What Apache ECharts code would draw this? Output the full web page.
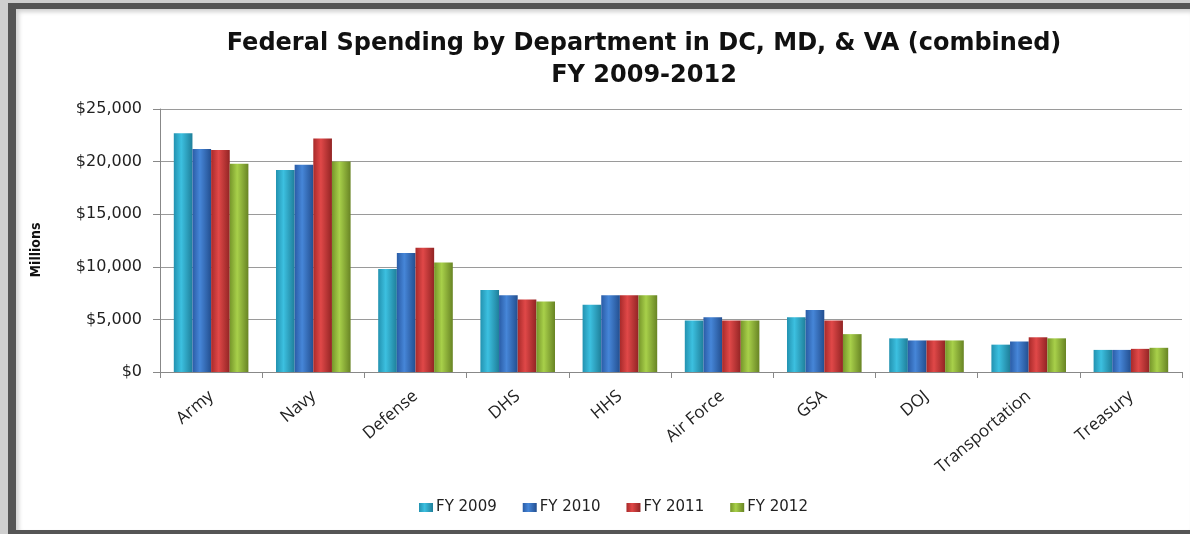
<!DOCTYPE html>
<html>
<head>
	<meta charset="utf-8">
	<title>Federal Spending by Department</title>
	<script src="https://cdn.jsdelivr.net/npm/echarts@6/dist/echarts.min.js"></script>
	<style>
		html, body { margin: 0; padding: 0; width: 1190px; height: 534px; overflow: hidden; background: #cfcfcf; }
		#frame { position: absolute; left: 8px; top: 3px; width: 1174px; height: 521px; background: #fff;
			border-left: 8px solid #555; border-top: 6px solid #555; border-bottom: 4px solid #555;
			box-shadow: inset 3px 3px 4px rgba(0,0,0,0.18); }
		#container { position: absolute; left: 0; top: 0; width: 1190px; height: 534px; }
	</style>
</head>
<body>
	<div id="frame"></div>
	<div id="container"></div>
	<script type="text/javascript">
	var departments = ['Army', 'Navy', 'Defense', 'DHS', 'HHS', 'Air Force', 'GSA', 'DOJ', 'Transportation', 'Treasury'];
	var years = ['FY 2009', 'FY 2010', 'FY 2011', 'FY 2012'];
	// millions of dollars
	var fy2009 = [22700, 19200, 9800, 7800, 6400, 4900, 5200, 3200, 2600, 2100];
	var fy2010 = [21200, 19700, 11300, 7300, 7300, 5200, 5900, 3000, 2900, 2100];
	var fy2011 = [21100, 22200, 11800, 6900, 7300, 4900, 4900, 3000, 3300, 2200];
	var fy2012 = [19800, 20000, 10400, 6700, 7300, 4900, 3600, 3000, 3200, 2300];
	var yTicks = [0, 5000, 10000, 15000, 20000, 25000];

	var values = [fy2009, fy2010, fy2011, fy2012];
	var palette = [
		['#2392b0', '#3cc0e0', '#1f7f9a'],
		['#2a5ca6', '#4686d8', '#234f90'],
		['#a82a2a', '#e04848', '#922424'],
		['#76962a', '#a8d04a', '#688424']
	];

	function shade(c) {
		return new echarts.graphic.LinearGradient(0, 0, 1, 0, [
			{offset: 0, color: c[0]},
			{offset: 0.4, color: c[1]},
			{offset: 1, color: c[2]}
		]);
	}

	var series = [];
	for (var i = 0; i < years.length; i++) {
		series.push({
			name: years[i],
			type: 'bar',
			data: values[i],
			barGap: '0%',
			barCategoryGap: '27%',
			itemStyle: {color: shade(palette[i])}
		});
	}

	var myChart = echarts.init(document.getElementById('container'));
	myChart.setOption({
		animation: false,
		backgroundColor: 'transparent',
		color: ['#30b4d4', '#3b7ad0', '#d63a3a', '#9cc43e'],
		title: {
			text: 'Federal Spending by Department in DC, MD, & VA (combined)\nFY 2009-2012',
			left: 639,
			top: 23,
			textAlign: 'center',
			textStyle: {fontFamily: 'DejaVu Sans', fontWeight: 'bold', fontSize: 24, lineHeight: 32, color: '#111'}
		},
		legend: {
			data: years,
			left: 414,
			top: 495,
			itemWidth: 14,
			itemHeight: 9,
			itemGap: 26,
			icon: 'rect',
			textStyle: {fontFamily: 'DejaVu Sans', fontSize: 15, color: '#222', padding: [0, 0, 0, -2]}
		},
		grid: {left: 160, right: 8, top: 109, bottom: 162},
		graphic: [{
			type: 'text',
			x: 36,
			y: 250,
			rotation: Math.PI / 2,
			style: {text: 'Millions', fontFamily: 'DejaVu Sans Condensed', fontWeight: 'bold', fontSize: 14,
				fill: '#111', align: 'center', verticalAlign: 'middle'}
		}],
		xAxis: {
			type: 'category',
			data: departments,
			axisLine: {lineStyle: {color: '#888'}},
			axisTick: {show: true, length: 6, lineStyle: {color: '#888'}},
			axisLabel: {interval: 0, rotate: 40, margin: 22, fontFamily: 'Open Sans', fontSize: 17, color: '#222'}
		},
		yAxis: {
			type: 'value',
			min: yTicks[0],
			max: yTicks[yTicks.length - 1],
			interval: yTicks[1] - yTicks[0],
			axisLine: {show: true, lineStyle: {color: '#888'}},
			axisTick: {show: true, length: 7, lineStyle: {color: '#888'}},
			axisLabel: {
				margin: 18,
				fontFamily: 'DejaVu Sans',
				fontSize: 16,
				color: '#222',
				formatter: function (v) { return '$' + v.toLocaleString('en-US'); }
			},
			splitLine: {lineStyle: {color: '#9a9a9a', width: 1}}
		},
		series: series
	});
	</script>
</body>
</html>
